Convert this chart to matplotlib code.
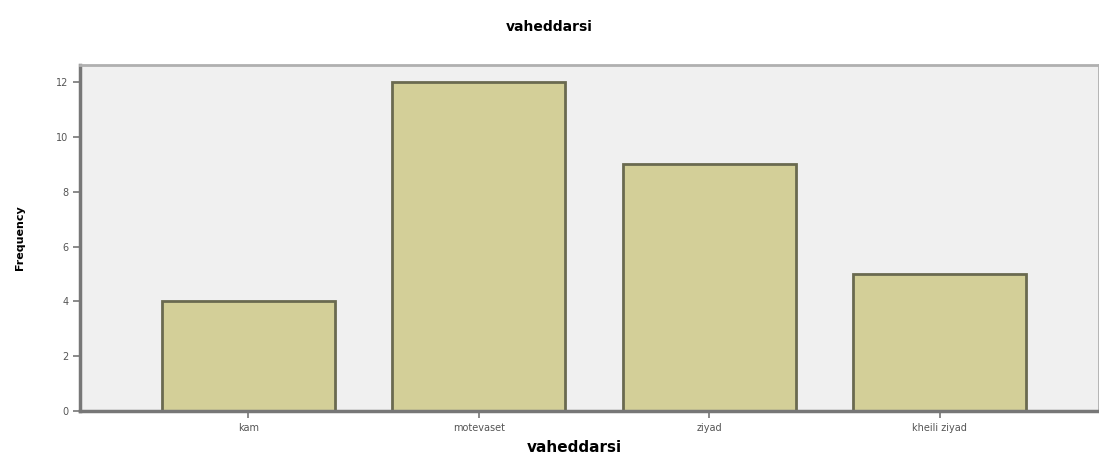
import matplotlib
matplotlib.use('Agg')
import matplotlib.pyplot as plt

# Data
categories = ['kam', 'motevaset', 'ziyad', 'kheili ziyad']
frequency = [4, 12, 9, 5]

fig = plt.figure(figsize=(10.99, 4.55), dpi=100)
ax = fig.add_axes([0.0728, 0.0967, 0.9272, 0.7603])
ax.set_facecolor('#f0f0f0')

ax.bar(range(len(categories)), frequency, width=0.75, color='#d3cf98',
       edgecolor='#6a6a50', linewidth=2)

ax.set_xlim(-0.73, 3.69)
ax.set_ylim(0, 12.63)
ax.set_yticks([0, 2, 4, 6, 8, 10, 12])
ax.set_xticks(range(len(categories)))
ax.set_xticklabels(categories)

ax.tick_params(axis='both', labelsize=7, colors='#777777', labelcolor='#555555',
               length=5, width=1.2)

for side in ['top', 'right']:
    ax.spines[side].set_color('#b0b0b0')
    ax.spines[side].set_linewidth(2)
for side in ['left', 'bottom']:
    ax.spines[side].set_color('#777777')
    ax.spines[side].set_linewidth(2.5)

ax.set_ylabel('Frequency', fontsize=8, fontweight='bold', labelpad=22)
ax.set_xlabel('vaheddarsi', fontsize=11, fontweight='bold', labelpad=2)
ax.xaxis.set_label_coords(0.485, -0.085)
fig.suptitle('vaheddarsi', fontsize=10, fontweight='bold', y=0.955)

plt.savefig('out.png', dpi=100)
